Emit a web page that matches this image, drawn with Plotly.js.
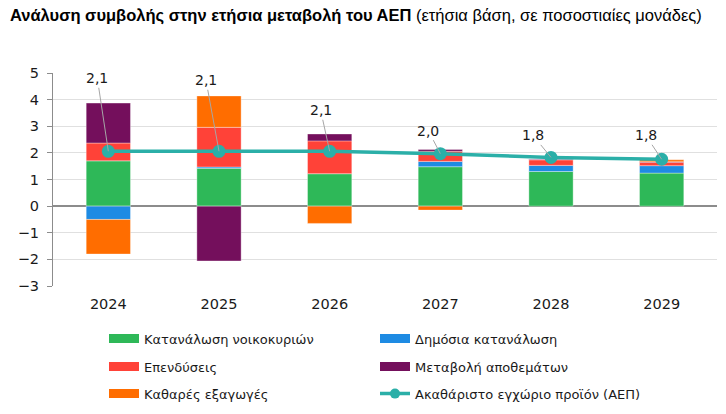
<!DOCTYPE html>
<html>
<head>
<meta charset="utf-8">
<script src="https://cdn.plot.ly/plotly-3.0.1.min.js"></script>
<style>html,body{margin:0;padding:0;background:#fff;}#chart{width:726px;height:414px;}</style>
</head>
<body>
<div id="chart"></div>
<script>
const years = ['2024', '2025', '2026', '2027', '2028', '2029'];
const household = [1.70, 1.42, 1.22, 1.48, 1.30, 1.24];
const government = [-0.50, 0.05, 0.00, 0.20, 0.23, 0.28];
const investment = [0.67, 1.49, 1.23, 0.38, 0.21, 0.13];
const inventories = [1.50, -2.06, 0.26, 0.07, 0.03, 0.02];
const netExports = [-1.30, 1.18, -0.65, -0.15, 0.00, 0.07];
const gdp = [2.06, 2.06, 2.06, 1.97, 1.83, 1.76];
const gdpLabels = ['2,1', '2,1', '2,1', '2,0', '1,8', '1,8'];
const labelOffsetX = [-11, -13, -9, -12, -18, -16];
const labelOffsetY = [-73, -71, -41, -23, -22, -24];

const names = ['Κατανάλωση νοικοκυριών', 'Δημόσια κατανάλωση', 'Επενδύσεις', 'Μεταβολή αποθεμάτων', 'Καθαρές εξαγωγές', 'Ακαθάριστο εγχώριο προϊόν (ΑΕΠ)'];
const colors = ['#2EB858', '#1E8BE3', '#FF4238', '#740F5C', '#FF6D00', '#2BAFA8'];
const series = [household, government, investment, inventories, netExports];
const legendIds = ['legend', 'legend2', 'legend3', 'legend4', 'legend5', 'legend6'];

const traces = [];
series.forEach((vals, i) => {
  traces.push({
    type: 'bar', x: years, y: vals, name: names[i], showlegend: false,
    marker: {color: colors[i], line: {color: 'rgba(255,255,255,0.35)', width: 1}},
    width: 0.4, hoverinfo: 'y'
  });
});
// legend swatches
series.forEach((vals, i) => {
  traces.push({
    type: 'scatter', mode: 'lines', x: [years[0]], y: [null], name: names[i],
    line: {color: colors[i], width: 9}, legend: legendIds[i], hoverinfo: 'skip'
  });
});
traces.push({
  type: 'scatter', mode: 'lines+markers', x: years, y: gdp, name: names[5],
  line: {color: colors[5], width: 3.5}, marker: {color: colors[5], size: 13},
  showlegend: false
});
traces.push({
  type: 'scatter', mode: 'lines+markers', x: [years[0]], y: [null], name: names[5],
  line: {color: colors[5], width: 3.5}, marker: {color: colors[5], size: 10},
  legend: legendIds[5], hoverinfo: 'skip'
});

const annotations = years.map((yr, i) => ({
  x: i, y: gdp[i], xref: 'x', yref: 'y', text: gdpLabels[i],
  showarrow: true, arrowhead: 0, arrowwidth: 1, arrowcolor: '#a6a6a6',
  axref: 'pixel', ayref: 'pixel',
  ax: labelOffsetX[i], ay: labelOffsetY[i], standoff: 0,
  font: {family: 'DejaVu Sans', size: 14, color: '#1a1a1a'}
}));

const plotH = 414 - 73.3 - 128;
function rowY(py) { return (286 - py) / plotH; }
const colX = [(104 - 53) / 664, (375 - 53) / 664];
const legendFont = {family: 'DejaVu Sans', size: 13, color: '#1a1a1a'};
function leg(x, y) {
  return {x: x, y: y, xanchor: 'left', yanchor: 'middle', orientation: 'v',
    font: legendFont, bgcolor: 'rgba(0,0,0,0)', borderwidth: 0, itemclick: false};
}

const layout = {
  width: 726, height: 414,
  margin: {l: 53, r: 9, t: 73.3, b: 128, autoexpand: false},
  paper_bgcolor: '#fff', plot_bgcolor: '#fff',
  barmode: 'relative',
  title: {
    text: '<b>Ανάλυση συμβολής στην ετήσια μεταβολή του ΑΕΠ</b> (ετήσια βάση, σε ποσοστιαίες μονάδες)',
    x: 10 / 726, xanchor: 'left', xref: 'container', yref: 'container', y: 1 - 15 / 414, yanchor: 'middle',
    font: {family: 'Liberation Sans', size: 16.5, color: '#000'}
  },
  xaxis: {
    type: 'category', range: [-0.5, 5.5], showgrid: false, zeroline: false, showline: false,
    ticks: '', ticklabelstandoff: 7,
    tickfont: {family: 'DejaVu Sans', size: 14.5, color: '#1a1a1a'}, fixedrange: true
  },
  yaxis: {
    range: [-3, 5], dtick: 1, tick0: 0, showgrid: true, gridcolor: '#e0e0e0', gridwidth: 1,
    zeroline: true, zerolinecolor: '#8c8c8c', zerolinewidth: 1.5,
    showline: true, linecolor: '#8c8c8c', linewidth: 1, ticks: 'outside', ticklen: 5, tickcolor: '#8c8c8c',
    ticklabelstandoff: 5,
    tickfont: {family: 'DejaVu Sans', size: 14.5, color: '#1a1a1a'}, fixedrange: true
  },
  legend: leg(colX[0], rowY(338.5)),
  legend2: leg(colX[1], rowY(338.5)),
  legend3: leg(colX[0], rowY(366.5)),
  legend4: leg(colX[1], rowY(366.5)),
  legend5: leg(colX[0], rowY(393.5)),
  legend6: leg(colX[1], rowY(393.5)),
  annotations: annotations,
  showlegend: true
};

Plotly.newPlot('chart', traces, layout, {displayModeBar: false, staticPlot: true});
</script>
</body>
</html>
